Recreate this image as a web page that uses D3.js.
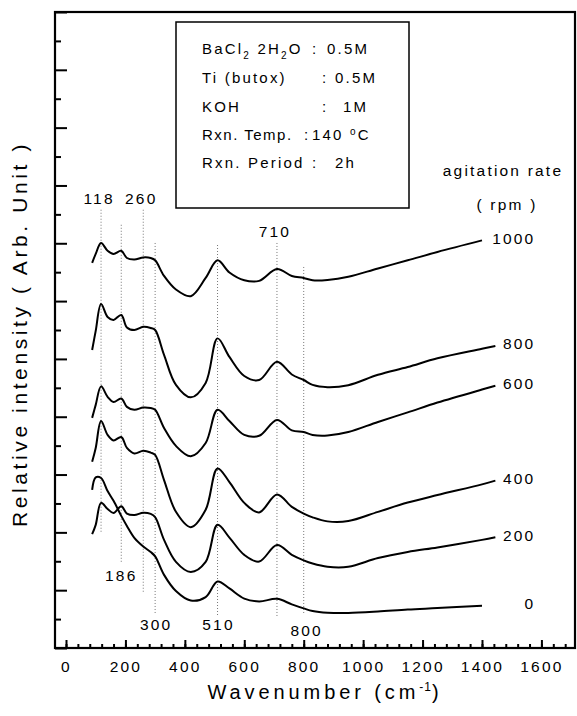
<!DOCTYPE html>
<html><head><meta charset="utf-8">
<script src="https://cdn.jsdelivr.net/npm/d3@7"></script>
<style>
html,body{margin:0;padding:0;background:#fff;}
svg{display:block;font-family:"Liberation Sans",Arial,Helvetica,sans-serif;}
</style></head><body>
<svg id="chart" width="577" height="716"></svg>
<script>
// ---------------- data ----------------
const wavenumbers = [88,100,118,140,160,186,205,230,260,285,300,330,370,420,470,510,550,600,650,710,760,800,830,880,950,1050,1150,1250,1400,1445];
const rates = ["1000","800","600","400","200","0"];
const rpm1000 = [13.32,13.63,14.01,13.74,13.63,13.74,13.49,13.44,13.51,13.49,13.41,12.87,12.40,12.17,12.80,13.41,12.99,12.72,12.70,13.11,12.87,12.80,12.72,12.73,12.84,13.13,13.41,13.70,14.10,null];
const rpm800  = [10.31,10.97,11.90,11.45,11.35,11.52,11.09,11.00,11.11,11.07,11.00,10.14,9.10,8.67,9.17,10.71,10.07,9.41,9.27,9.90,9.46,9.27,9.10,9.02,9.09,9.45,9.72,10.02,10.35,10.45];
const rpm600  = [7.96,8.41,9.05,8.69,8.51,8.63,8.34,8.24,8.32,8.30,8.24,7.61,6.99,6.63,7.09,8.24,7.85,7.37,7.34,7.89,7.53,7.47,7.37,7.35,7.47,7.82,8.15,8.49,8.94,9.07];
const rpm400  = [6.44,6.92,7.85,7.37,7.18,7.30,6.92,6.73,6.82,6.76,6.68,5.81,4.71,4.18,4.78,6.21,5.74,5.02,4.69,5.31,4.88,4.65,4.52,4.38,4.39,4.71,5.03,5.29,5.66,5.79];
const rpm200  = [3.94,4.26,5.02,4.81,4.67,4.90,4.65,4.60,4.68,4.64,4.53,3.74,2.98,2.63,2.98,4.26,3.82,3.22,2.99,3.56,3.22,3.03,2.92,2.81,2.81,3.11,3.32,3.48,3.74,3.83];
const rpm0    = [5.47,5.90,5.88,5.43,5.09,4.57,4.22,3.81,3.51,3.32,3.17,2.53,1.97,1.64,1.76,2.30,2.06,1.71,1.61,1.70,1.51,1.37,1.28,1.22,1.21,1.26,1.33,1.38,1.46,null];
const seriesValues = [rpm1000, rpm800, rpm600, rpm400, rpm200, rpm0];

const xTickLabels = [0,200,400,600,800,1000,1200,1400,1600];
const peakTop = [118,260,710];
const peakBottom = [186,300,510,800];
const guideLines = [118,186,260,300,510,710,800];
const guideTop    = [15.16,14.64,15.16,14.01,13.94,14.01,13.18];
const guideBottom = [3.98,2.94,1.90,1.21,1.14,1.07,1.21];

// ---------------- layout ----------------
const svg = d3.select("#chart");
const L=55, R=575, T=12, B=648;
const x = d3.scaleLinear().domain([-37,1713]).range([L,R]);
const y = d3.scaleLinear().domain([0,22]).range([B,T]);
const FONT = '"Liberation Sans",Arial,Helvetica,sans-serif';
const NFS = 15.5, NLS = 2.2;

// guide dotted lines
svg.append("g").selectAll("line").data(guideLines).join("line")
  .attr("x1",d=>x(d)).attr("x2",d=>x(d))
  .attr("y1",(d,i)=>y(guideTop[i])).attr("y2",(d,i)=>y(guideBottom[i]))
  .attr("stroke","#777").attr("stroke-width",1).attr("stroke-dasharray","1,2");

// curves
const line = d3.line()
  .defined(d=>d[1]!=null)
  .x(d=>x(d[0])).y(d=>y(d[1]))
  .curve(d3.curveCatmullRom.alpha(0.5));
svg.append("g").selectAll("path").data(seriesValues).join("path")
  .attr("d",vals=>line(wavenumbers.map((w,i)=>[w,vals[i]])))
  .attr("fill","none").attr("stroke","#000").attr("stroke-width",2)
  .attr("stroke-linejoin","round");

// series labels
svg.append("g").selectAll("text").data(rates).join("text")
  .attr("x",x(1600)-6)
  .attr("y",(d,i)=>{const v=seriesValues[i].filter(e=>e!=null);return y(v[v.length-1])-2;})
  .attr("dy","0.35em").attr("text-anchor","end")
  .attr("font-size",NFS).attr("letter-spacing",NLS).text(d=>d);

svg.append("text").attr("x",503).attr("y",171).attr("dy","0.35em")
  .attr("text-anchor","middle").attr("font-size",NFS).attr("letter-spacing",NLS).text("agitation rate");
svg.append("text").attr("x",507).attr("y",205).attr("dy","0.35em")
  .attr("text-anchor","middle").attr("font-size",NFS).attr("letter-spacing",NLS).text("( rpm )");

// peak labels
svg.append("g").selectAll("text").data(peakTop).join("text")
  .attr("x",d=>x(d)-2).attr("y",(d,i)=>y(i<2?15.54:14.39)).attr("dy","0.35em")
  .attr("text-anchor","middle").attr("font-size",NFS).attr("letter-spacing",NLS).text(d=>d);
svg.append("g").selectAll("text").data(peakBottom).join("text")
  .attr("x",d=>x(d)+(d===186?0:d===800?3:1)).attr("y",(d,i)=>y([2.49,0.80,0.80,0.62][i])).attr("dy","0.35em")
  .attr("text-anchor","middle").attr("font-size",NFS).attr("letter-spacing",NLS).text(d=>d);

// axes ticks
const gx = svg.append("g").attr("transform",`translate(0,${B})`);
gx.call(d3.axisBottom(x).tickValues(d3.range(0,1720,40)).tickSize(-4).tickFormat(""))
  .call(g=>g.select(".domain").remove());
const gx2 = svg.append("g").attr("transform",`translate(0,${B})`);
gx2.call(d3.axisBottom(x).tickValues(xTickLabels).tickSize(-8).tickPadding(13).tickFormat(d3.format("d")))
  .call(g=>g.select(".domain").remove());
gx2.selectAll("text").attr("font-family",FONT).attr("font-size",NFS).attr("letter-spacing",NLS).attr("fill","#000");

const gy = svg.append("g").attr("transform",`translate(${L},0)`);
gy.call(d3.axisLeft(y).tickValues(d3.range(1,22,2)).tickSize(-6).tickFormat(""))
  .call(g=>g.select(".domain").remove());
const gy2 = svg.append("g").attr("transform",`translate(${L},0)`);
gy2.call(d3.axisLeft(y).tickValues(d3.range(0,23,2)).tickSize(-12).tickFormat(""))
  .call(g=>g.select(".domain").remove());
svg.selectAll(".tick line").attr("stroke","#000").attr("stroke-width",2);

// frame
svg.append("rect").attr("x",L).attr("y",T).attr("width",R-L).attr("height",B-T)
  .attr("fill","none").attr("stroke","#000").attr("stroke-width",2.2);

// legend box
svg.append("rect").attr("x",176).attr("y",22).attr("width",233).attr("height",186)
  .attr("fill","#fff").attr("stroke","#000").attr("stroke-width",1.5);
const lg = svg.append("g").attr("font-size",15).attr("letter-spacing",2.2);
function txt(xp,yp,s){return lg.append("text").attr("x",xp).attr("y",yp).attr("dy","0.35em").text(s);}
const t1 = lg.append("text").attr("x",202).attr("y",49).attr("dy","0.35em");
t1.append("tspan").text("BaCl");
t1.append("tspan").attr("font-size",10).attr("dy","5").text("2");
t1.append("tspan").attr("dy","-5").text(" 2H");
t1.append("tspan").attr("font-size",10).attr("dy","5").text("2");
t1.append("tspan").attr("dy","-5").text("O");
txt(312,49,":"); txt(327,49,"0.5M");
txt(202,78,"Ti (butox)"); txt(322,78,":"); txt(335,78,"0.5M");
txt(202,107,"KOH"); txt(322,107,":"); txt(343,107,"1M");
txt(202,135,"Rxn. Temp.").attr("letter-spacing",1.5); txt(304,135,":");
const t4 = lg.append("text").attr("x",312).attr("y",135).attr("dy","0.35em");
t4.append("tspan").text("140 ");
t4.append("tspan").attr("font-size",10).attr("dy","-5").text("o");
t4.append("tspan").attr("dy","5").text("C");
txt(202,163,"Rxn. Period"); txt(312,163,":"); txt(335,163,"2h");

// axis titles
const xt = svg.append("text").attr("x",325).attr("y",699)
  .attr("text-anchor","middle").attr("font-size",20).attr("letter-spacing",3.9);
xt.append("tspan").text("Wavenumber (cm");
xt.append("tspan").attr("font-size",12).attr("dy","-8").attr("letter-spacing",1).text("-1");
xt.append("tspan").attr("dy","8").text(")");

svg.append("text").attr("transform","translate(27,334) rotate(-90)")
  .attr("text-anchor","middle").attr("font-size",21).attr("letter-spacing",3.6)
  .text("Relative intensity ( Arb. Unit )");
</script>
</body></html>
